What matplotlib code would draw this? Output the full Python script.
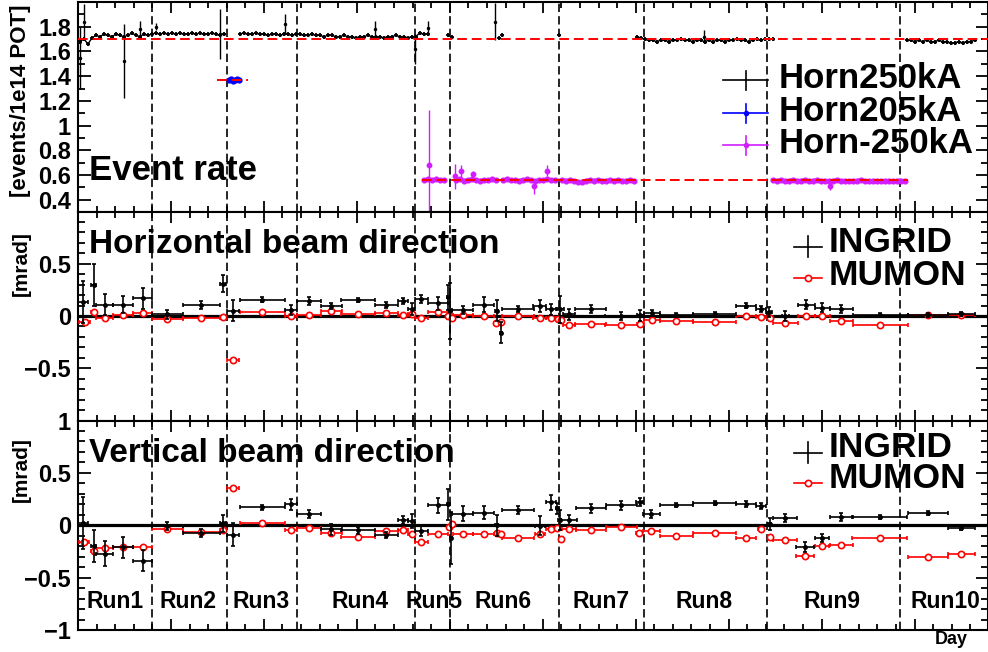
import numpy as np
import matplotlib.pyplot as plt
from matplotlib.ticker import MultipleLocator, FixedLocator, FixedFormatter

plt.rcParams['font.family'] = ['Liberation Sans', 'DejaVu Sans']
plt.rcParams['font.weight'] = 'bold'

MAGENTA = '#d21eff'

# run boundaries and labels (days since start of the plot)
run_edges = [222, 447, 658, 1012, 1118, 1444, 1698, 2069, 2468]
run_names = ['Run1', 'Run2', 'Run3', 'Run4', 'Run5', 'Run6', 'Run7', 'Run8', 'Run9', 'Run10']
run_label_day = [111, 330, 549, 846, 1068, 1276, 1569, 1878, 2262, 2604]

# ---- event rate, one entry every 12 days ----
h250_start = [6, 486, 1677, 2487]
h250_run12 = [1.68, 1.70, 1.66, 1.71, 1.73, 1.72, 1.74, 1.73, 1.72, 1.74, 1.73, 1.72, 1.73,
              1.75, 1.73, 1.72, 1.74, 1.73, 1.74, 1.75, 1.74, 1.75, 1.74, 1.75, 1.74, 1.75,
              1.74, 1.74, 1.75, 1.74, 1.75, 1.74, 1.74, 1.75, 1.74, 1.73, 1.74]
h250_run34 = [1.74, 1.75, 1.74, 1.74, 1.75, 1.74, 1.74, 1.73, 1.74, 1.74, 1.73, 1.74, 1.74,
              1.73, 1.74, 1.74, 1.73, 1.73, 1.74, 1.73, 1.73, 1.72, 1.73, 1.73, 1.72, 1.72,
              1.73, 1.72, 1.72, 1.71, 1.72, 1.72, 1.73, 1.72, 1.72, 1.72, 1.71, 1.72, 1.72,
              1.73, 1.72, 1.72, 1.71, 1.72, 1.72, 1.75, 1.74, 1.74]
h250_run8 = [1.72, 1.71, 1.70, 1.69, 1.69, 1.68, 1.69, 1.69, 1.68, 1.69, 1.69, 1.70, 1.69,
             1.69, 1.68, 1.69, 1.69, 1.68, 1.69, 1.68, 1.69, 1.69, 1.68, 1.69, 1.69, 1.70,
             1.69, 1.69, 1.68, 1.69, 1.70, 1.69, 1.70, 1.70, 1.70]
h250_run10 = [1.69, 1.69, 1.68, 1.69, 1.68, 1.69, 1.68, 1.68, 1.69, 1.68, 1.68, 1.67, 1.67,
              1.68, 1.67, 1.68, 1.68, 1.69]
h250_extra_day = [1110, 1122, 1263, 1272, 1443]
h250_extra_val = [1.73, 1.72, 1.71, 1.73, 1.73]
# low-statistics days with large errors
h250_low_day = [6, 18, 138, 186, 234, 426, 621, 891, 1011, 1050, 1251, 1878]
h250_low_val = [1.55, 1.84, 1.52, 1.78, 1.80, 1.74, 1.82, 1.78, 1.62, 1.79, 1.84, 1.72]
h250_low_err = [0.25, 0.14, 0.30, 0.07, 0.03, 0.20, 0.08, 0.07, 0.12, 0.06, 0.15, 0.05]

h205_day = [453, 459, 465, 471, 477, 483]
h205_val = [1.37, 1.38, 1.36, 1.37, 1.38, 1.37]

hm250_start = [1038, 1134, 1275, 1452, 2085]
hm250_run5a = [0.56, 0.565, 0.56, 0.565, 0.56, 0.56]
hm250_run5b = [0.56, 0.565, 0.555, 0.56, 0.565, 0.56, 0.555, 0.56, 0.56, 0.565, 0.56]
hm250_run6 = [0.56, 0.565, 0.56, 0.56, 0.555, 0.56, 0.565, 0.56, 0.55, 0.56, 0.56, 0.565,
              0.56, 0.56]
hm250_run7 = [0.56, 0.555, 0.56, 0.555, 0.545, 0.54, 0.555, 0.56, 0.555, 0.56, 0.555, 0.555,
              0.56, 0.555, 0.56, 0.555, 0.555, 0.56, 0.555]
hm250_run9 = [0.56, 0.555, 0.56, 0.555, 0.555, 0.56, 0.555, 0.555, 0.56, 0.555, 0.555, 0.56,
              0.555, 0.555, 0.55, 0.555, 0.56, 0.555, 0.555, 0.55, 0.555, 0.555, 0.56, 0.555,
              0.55, 0.555, 0.555, 0.55, 0.555, 0.555, 0.55, 0.555, 0.555, 0.55]
hm250_low_day = [1053, 1131, 1149, 1185, 1368, 1407, 2256]
hm250_low_val = [0.68, 0.59, 0.63, 0.61, 0.51, 0.635, 0.51]
hm250_low_err = [0.45, 0.10, 0.05, 0.02, 0.06, 0.045, 0.035]

# mean rates per horn setting: (level, first day, last day)
mean_levels = [(1.70, 0, 2730), (1.37, 417, 510), (0.56, 1032, 2490)]

# ---- horizontal beam direction [mrad] ----
h_ing_day = [15, 47, 80, 135, 194, 268, 370, 435, 466, 553, 639, 694, 760, 840, 925, 976,
             1002, 1031, 1080, 1112, 1116, 1155, 1218, 1257, 1270, 1320, 1386, 1421, 1448,
             1474, 1539, 1631, 1688, 1722, 1796, 1911, 2004, 2051, 2074, 2123, 2186, 2234,
             2291, 2408, 2551, 2651]
h_ing_val = [0.135, 0.30, 0.11, 0.11, 0.17, 0.015, 0.105, 0.31, 0.05, 0.155, 0.06, 0.145,
             0.095, 0.15, 0.105, 0.145, 0.065, 0.165, 0.12, 0.18, 0.05, 0.06, 0.11, 0.05,
             -0.16, 0.065, 0.096, 0.064, 0.064, 0.016, 0.064, 0.0, 0.006, 0.03, 0.006, 0.016,
             0.10, 0.07, 0.04, 0.0, 0.11, 0.08, 0.064, 0.01, 0.01, 0.016]
h_ing_err = [0.2, 0.2, 0.1, 0.08, 0.1, 0.045, 0.04, 0.08, 0.1, 0.025, 0.05, 0.04, 0.03, 0.02,
             0.03, 0.03, 0.06, 0.04, 0.06, 0.12, 0.27, 0.04, 0.07, 0.1, 0.1, 0.03, 0.06, 0.05,
             0.13, 0.05, 0.04, 0.04, 0.05, 0.03, 0.02, 0.02, 0.02, 0.03, 0.05, 0.05, 0.04,
             0.04, 0.04, 0.02, 0.02, 0.02]
h_ing_wid = [15, 7, 25, 30, 28, 46, 55, 10, 18, 67, 19, 36, 32, 50, 35, 16, 10, 19, 30, 4, 3,
             32, 32, 5, 3, 48, 20, 15, 10, 17, 47, 50, 10, 24, 50, 65, 30, 15, 8, 10, 25, 22,
             35, 82, 60, 40]

h_mu_day = [20, 47, 80, 135, 194, 268, 370, 435, 466, 553, 639, 694, 760, 840, 925, 976,
            1002, 1031, 1080, 1112, 1122, 1155, 1218, 1256, 1270, 1320, 1386, 1421, 1441,
            1451, 1474, 1539, 1631, 1688, 1722, 1796, 1911, 2004, 2051, 2076, 2123, 2186,
            2234, 2291, 2408, 2551, 2651]
h_mu_val = [-0.058, 0.042, -0.016, 0.013, 0.026, -0.032, -0.016, -0.013, -0.417, 0.042,
            -0.003, 0.01, 0.045, 0.022, 0.032, 0.013, 0.019, -0.016, 0.042, -0.003, -0.016,
            0.01, 0.0, -0.067, -0.055, -0.003, -0.02, -0.02, -0.026, -0.042, -0.087, -0.074,
            -0.09, -0.08, -0.042, -0.051, -0.058, 0.0, -0.006, -0.016, -0.07, 0.0, -0.003,
            -0.051, -0.087, 0.013, 0.01]
h_mu_wid = [16, 7, 25, 30, 28, 46, 55, 10, 18, 67, 19, 36, 32, 50, 35, 16, 10, 19, 30, 6, 4,
            30, 32, 5, 5, 48, 20, 15, 5, 5, 17, 47, 50, 10, 24, 50, 65, 30, 15, 5, 37, 25,
            22, 35, 82, 60, 40]

# ---- vertical beam direction [mrad] ----
v_ing_day = [15, 47, 80, 135, 194, 268, 370, 435, 466, 553, 639, 694, 760, 840, 925, 976,
             1002, 1031, 1080, 1112, 1120, 1155, 1218, 1257, 1320, 1386, 1419, 1439, 1446,
             1474, 1539, 1631, 1686, 1721, 1796, 1911, 2004, 2051, 2076, 2122, 2183, 2233,
             2291, 2406, 2551, 2651]
v_ing_val = [0.02, -0.2, -0.27, -0.21, -0.34, -0.006, -0.076, 0.02, -0.09, 0.17, 0.2, 0.105,
             -0.04, -0.05, -0.09, 0.048, 0.04, -0.054, 0.19, 0.2, -0.12, 0.11, 0.12, 0.0,
             0.143, -0.006, 0.22, 0.16, 0.05, 0.05, 0.16, 0.19, 0.22, 0.11, 0.195, 0.21, 0.2,
             0.185, 0.01, 0.067, -0.21, -0.12, 0.08, 0.08, 0.12, -0.03]
v_ing_err = [0.25, 0.15, 0.12, 0.1, 0.1, 0.04, 0.04, 0.08, 0.11, 0.02, 0.05, 0.04, 0.05, 0.03,
             0.03, 0.04, 0.07, 0.05, 0.07, 0.15, 0.25, 0.07, 0.06, 0.1, 0.04, 0.09, 0.07,
             0.05, 0.1, 0.05, 0.04, 0.04, 0.04, 0.04, 0.02, 0.02, 0.03, 0.03, 0.06, 0.04,
             0.05, 0.04, 0.04, 0.02, 0.02, 0.02]
v_ing_wid = [15, 7, 25, 30, 28, 46, 55, 10, 18, 67, 19, 36, 32, 50, 35, 16, 10, 19, 30, 4, 3,
             32, 32, 5, 48, 15, 15, 5, 5, 25, 45, 46, 10, 25, 50, 65, 30, 15, 5, 37, 27, 22,
             35, 82, 60, 40]

v_mu_day = [18, 47, 80, 135, 194, 268, 370, 435, 466, 553, 639, 694, 760, 840, 925, 976,
            1002, 1031, 1080, 1113, 1122, 1155, 1218, 1258, 1270, 1320, 1386, 1421, 1439,
            1449, 1474, 1539, 1631, 1684, 1721, 1796, 1911, 2004, 2049, 2076, 2122, 2183,
            2233, 2291, 2406, 2551, 2651]
v_mu_val = [-0.16, -0.245, -0.22, -0.21, -0.21, -0.038, -0.06, -0.05, 0.36, 0.02, -0.044,
            -0.022, -0.07, -0.11, -0.054, -0.041, -0.086, -0.156, -0.086, -0.016, 0.016,
            -0.086, -0.083, -0.073, -0.08, -0.124, -0.08, -0.04, -0.03, -0.13, -0.04, -0.048,
            -0.016, -0.073, -0.054, -0.1, -0.076, -0.124, -0.038, -0.108, -0.14, -0.295,
            -0.2, -0.187, -0.117, -0.3, -0.276]
v_mu_wid = [16, 7, 25, 30, 28, 46, 55, 10, 18, 67, 19, 36, 32, 50, 35, 16, 10, 19, 30, 4, 4,
            30, 32, 5, 5, 48, 15, 15, 5, 4, 20, 45, 46, 8, 25, 50, 65, 30, 8, 5, 37, 27, 22,
            35, 82, 60, 40]


def style_axis(ax, ylim, ticks, labels, minor):
    ax.set_xlim(0, 2730)
    ax.set_ylim(*ylim)
    ax.xaxis.set_major_locator(MultipleLocator(279))
    ax.xaxis.set_minor_locator(MultipleLocator(55.8))
    ax.yaxis.set_major_locator(FixedLocator(ticks))
    ax.yaxis.set_major_formatter(FixedFormatter(labels))
    ax.yaxis.set_minor_locator(MultipleLocator(minor))
    ax.tick_params(which='both', direction='in', top=True, right=True, width=1.3,
                   labelbottom=False, labelsize=17, pad=5)
    ax.tick_params(axis='y', which='major', length=9)
    ax.tick_params(axis='y', which='minor', length=5)
    ax.tick_params(axis='x', which='major', length=8)
    ax.tick_params(axis='x', which='minor', length=4)
    for sp in ax.spines.values():
        sp.set_linewidth(1.5)
    for d in run_edges:
        ax.axvline(d, color='k', lw=1.2, ls=(0, (5, 2.5)), zorder=1)


def ylabel(ax, text, ytop, size):
    ax.text(-0.0627, ytop, text, transform=ax.transAxes, rotation=90, ha='center', va='top',
            fontsize=size)


def rate_points(ax, starts, segs, color, ms, err, lw):
    # daily points are dense enough to read as a jagged band
    for s, v in zip(starts, segs):
        d = s + 12 * np.arange(len(v))
        ax.errorbar(d, v, yerr=err, xerr=6, fmt='o-', lw=lw, ms=ms, color=color,
                    elinewidth=1.3, capsize=0, zorder=3)


def legend_cross(ax, x0, x1, y, dy, color, dot):
    kw = dict(transform=ax.transAxes, color=color, clip_on=False, zorder=6)
    ax.plot([x0, x1], [y, y], lw=1.2, **kw)
    xc = (x0 + x1) / 2
    ax.plot([xc, xc], [y - dy, y + dy], lw=1.2, **kw)
    if dot:
        ax.plot([xc], [y], 'o', ms=3, **kw)


fig = plt.figure(figsize=(9.88, 6.52), dpi=100)
L, W = 78 / 988, 909.5 / 988
ax1 = fig.add_axes([L, (652 - 211.5) / 652, W, 209.5 / 652])
ax2 = fig.add_axes([L, (652 - 420.5) / 652, W, 209 / 652])
ax3 = fig.add_axes([L, (652 - 630) / 652, W, 209.5 / 652])

# ---- event rate ----
style_axis(ax1, (0.305, 2.0), [0.4, 0.6, 0.8, 1.0, 1.2, 1.4, 1.6, 1.8, 2.0],
           ['0.4', '0.6', '0.8', '1', '1.2', '1.4', '1.6', '1.8', ''], 0.1)
rate_points(ax1, h250_start, [h250_run12, h250_run34, h250_run8, h250_run10], 'k', 1.0,
            0.016, 1.0)
ax1.errorbar(h250_extra_day, h250_extra_val, yerr=0.016, xerr=6, fmt='o', ms=1.0, color='k',
             elinewidth=1.3, capsize=0, zorder=3)
ax1.errorbar(h250_low_day, h250_low_val, yerr=h250_low_err, fmt='o', ms=1.5, color='k',
             elinewidth=1.0, capsize=0, zorder=3)
ax1.errorbar(h205_day, h205_val, yerr=0.015, xerr=3, fmt='o', ms=3.5, color='#0000ff',
             elinewidth=1.0, capsize=0, zorder=3)
rate_points(ax1, hm250_start, [hm250_run5a, hm250_run5b, hm250_run6, hm250_run7, hm250_run9],
            MAGENTA, 3.4, 0.014, 2.5)
ax1.errorbar(hm250_low_day, hm250_low_val, yerr=hm250_low_err, fmt='o', ms=3.2, color=MAGENTA,
             elinewidth=1.0, capsize=0, zorder=3)
for lev, d0, d1 in mean_levels:
    ax1.plot([d0, d1], [lev, lev], color='#ff0000', lw=1.4, ls=(0, (5, 2.5)), zorder=4)

ax1.text(0.012, 0.148, 'Event rate', transform=ax1.transAxes, fontsize=25)
ylabel(ax1, '[events/1e14 POT]', 0.986, 16)
for name, color, yb, ym, dot in [('Horn250kA', 'k', 0.589, 0.627, False),
                                 ('Horn205kA', '#0000ff', 0.433, 0.469, True),
                                 ('Horn-250kA', MAGENTA, 0.280, 0.316, True)]:
    legend_cross(ax1, 0.7096, 0.759, ym, 0.045, color, dot)
    ax1.text(0.770, yb, name, transform=ax1.transAxes, fontsize=25, zorder=6)

# ---- beam direction panels ----
mrad_ticks = [-1, -0.5, 0, 0.5, 1]
panels = [
    (ax2, 'Horizontal beam direction', ['', '\u22120.5', '0', '0.5', ''],
     h_ing_day, h_ing_val, h_ing_err, h_ing_wid, h_mu_day, h_mu_val, h_mu_wid,
     0.803, 0.904, (0.805, 0.832, 0.647, 0.683)),
    (ax3, 'Vertical beam direction', ['\u22121', '\u22120.5', '0', '0.5', '1'],
     v_ing_day, v_ing_val, v_ing_err, v_ing_wid, v_mu_day, v_mu_val, v_mu_wid,
     0.804, 0.923, (0.825, 0.847, 0.677, 0.703)),
]
for (ax, title, labels, idays, ivals, ierrs, iwid, mdays, mvals, mwid,
     ty, ly, (ib, im, mb, mm)) in panels:
    style_axis(ax, (-1, 1), mrad_ticks, labels, 0.1)
    ax.axhline(0, color='k', lw=2.3, zorder=2)
    ax.errorbar(idays, ivals, yerr=ierrs, xerr=iwid, fmt='o', ms=2.5, color='k',
                elinewidth=1.2, capsize=1.5, capthick=1.2, zorder=4)
    ax.errorbar(mdays, mvals, xerr=mwid, fmt='o', ms=4.5, mfc='white', mec='#ff0000', mew=1.2,
                ecolor='#ff0000', elinewidth=1.2, capsize=1.5, capthick=1.2, zorder=3)
    ax.text(0.012, ty, title, transform=ax.transAxes, fontsize=24)
    ylabel(ax, '[mrad]', ly, 15)
    legend_cross(ax, 0.787, 0.818, im, 0.05, 'k', False)
    ax.text(0.825, ib, 'INGRID', transform=ax.transAxes, fontsize=25.5, zorder=6)
    kw = dict(transform=ax.transAxes, color='#ff0000', clip_on=False, zorder=6)
    ax.plot([0.787, 0.818], [mm, mm], lw=1.2, **kw)
    ax.plot([0.8025], [mm], 'o', ms=4.5, mfc='white', mew=1.2, **kw)
    ax.text(0.825, mb, 'MUMON', transform=ax.transAxes, fontsize=25.5, zorder=6)

for name, d in zip(run_names, run_label_day):
    ax3.text(d, 0.105, name, transform=ax3.get_xaxis_transform(), ha='center', fontsize=16.5)

fig.text(0.946, 0.012, 'Day', fontsize=13)

fig.savefig('out.png', dpi=100)
